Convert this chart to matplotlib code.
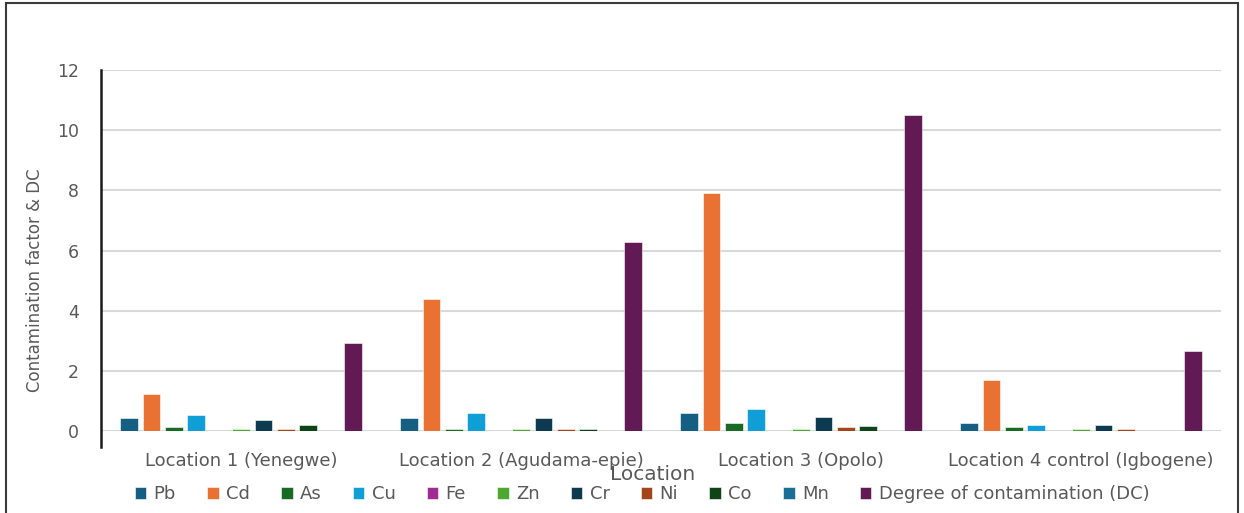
import matplotlib.pyplot as plt
import numpy as np
from matplotlib.lines import Line2D
from matplotlib.patches import Rectangle

locations = ["Location 1 (Yenegwe)", "Location 2 (Agudama-epie)",
             "Location 3 (Opolo)", "Location 4 control (Igbogene)"]
metals = ["Pb", "Cd", "As", "Cu", "Fe", "Zn", "Cr", "Ni", "Co", "Mn",
          "Degree of contamination (DC)"]

# contamination factor per metal, one value per location
pb = [0.42, 0.43, 0.61, 0.28]
cd = [1.22, 4.40, 7.90, 1.68]
as_ = [0.13, 0.07, 0.27, 0.14]
cu = [0.52, 0.60, 0.74, 0.21]
fe = [0.0, 0.0, 0.0, 0.0]
zn = [0.08, 0.07, 0.07, 0.07]
cr = [0.36, 0.42, 0.47, 0.21]
ni = [0.08, 0.07, 0.14, 0.08]
co = [0.21, 0.07, 0.17, 0.0]
mn = [0.0, 0.0, 0.0, 0.0]
dc = [2.94, 6.28, 10.50, 2.67]

colors = ["#156082", "#E97132", "#196B24", "#0F9ED5", "#A02B93", "#4EA72E",
          "#0E3A50", "#A5461A", "#0F4516", "#1B6F96", "#611A53"]
gray = "#595959"

W, H = 1244, 513
plt.rcParams['font.family'] = ['DejaVu Sans']
fig = plt.figure(figsize=(W / 100, H / 100), dpi=100)

ax = fig.add_axes([101 / W, 1 - 431 / H, 1120 / W, 361 / H])

series = [pb, cd, as_, cu, fe, zn, cr, ni, co, mn, dc]
x = np.arange(len(locations))
step = 0.08
for j, vals in enumerate(series):
    ax.bar(x + (j - 5) * step, vals, width=0.063, color=colors[j],
           edgecolor="white", linewidth=0.4, label=metals[j], zorder=3)

ax.set_xlim(-0.5, len(locations) - 0.5)
ax.set_ylim(0, 12)
ax.set_yticks(range(0, 13, 2))
ax.yaxis.grid(True, color="#D9D9D9", linewidth=1.5, zorder=0)
ax.set_axisbelow(True)
for s in ax.spines.values():
    s.set_visible(False)
ax.tick_params(axis="y", length=0, pad=16, labelsize=12.5, labelcolor=gray)
ax.set_xticks(x)
ax.set_xticklabels(locations)
ax.tick_params(axis="x", length=0, pad=15, labelsize=13, labelcolor=gray)

# vertical axis line, running a little below zero
ax.add_line(Line2D([0, 0], [-0.044, 1.0], transform=ax.transAxes,
                   color="#1a1a1a", linewidth=1.8, clip_on=False, zorder=5))

fig.text(653 / W, 1 - 474 / H, "Location", ha="center", va="center",
         fontsize=14.5, color=gray)
fig.text(35 / W, 1 - 280 / H, "Contamination factor & DC", ha="center",
         va="center", rotation=90, fontsize=12, color=gray)

leg = ax.legend(loc="center", bbox_to_anchor=(642 / W, 1 - 494 / H),
                bbox_transform=fig.transFigure, ncol=11, frameon=False,
                fontsize=13, handlelength=0.65, handleheight=0.65,
                handletextpad=0.4, columnspacing=1.72, borderaxespad=0)
for t in leg.get_texts():
    t.set_color(gray)

# chart frame
fig.add_artist(Rectangle((6 / W, -0.01), 1232 / W, 1 - 3 / H + 0.01,
                         transform=fig.transFigure, fill=False,
                         edgecolor="#3a3a3a", linewidth=1.5))

fig.savefig("out.png", dpi=100)
